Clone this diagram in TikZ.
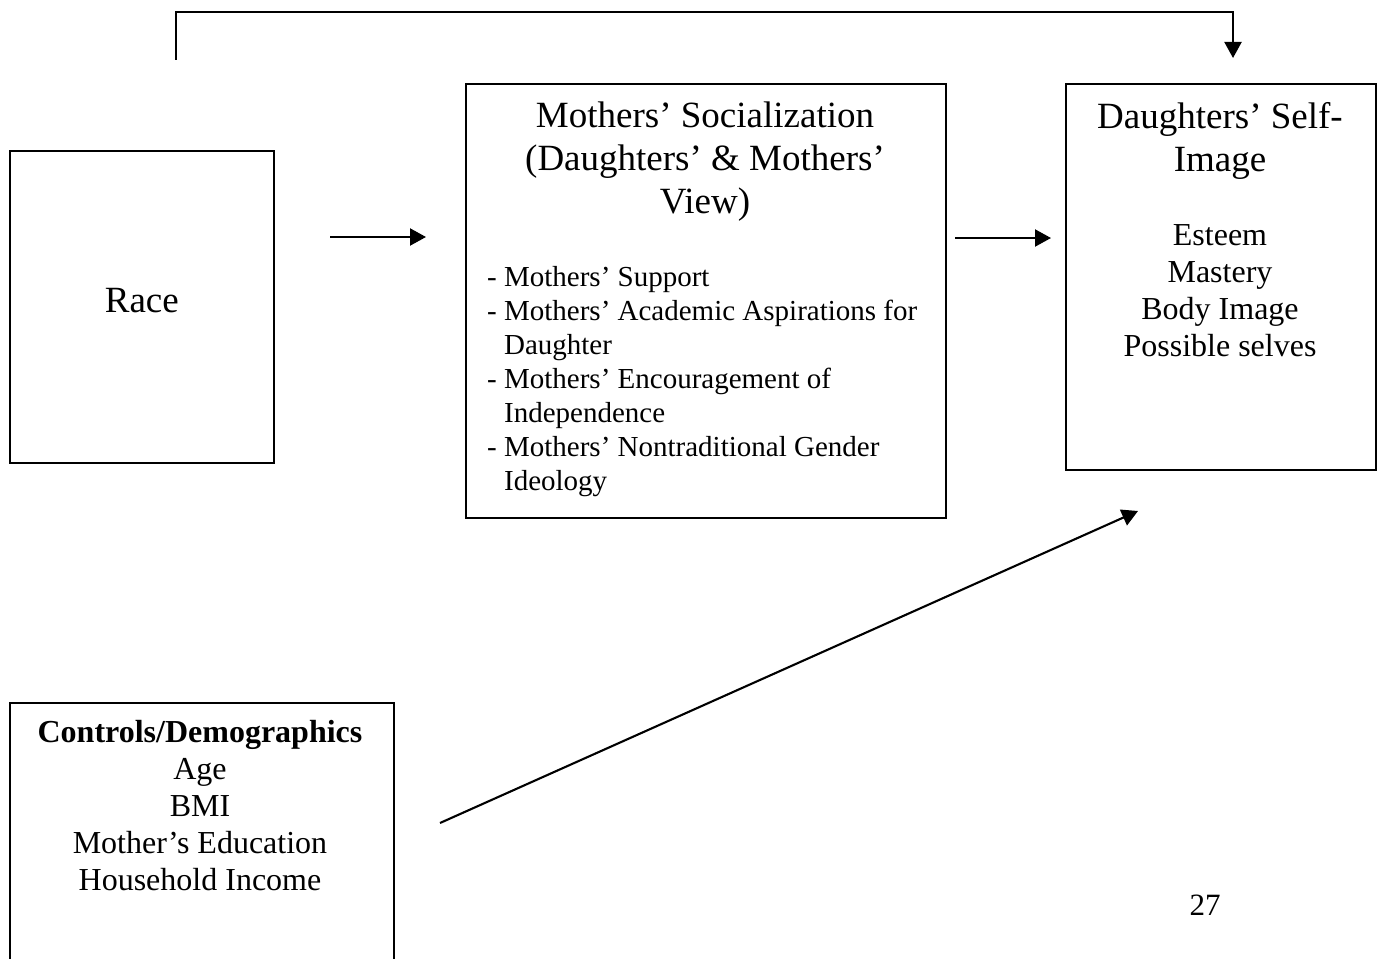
\documentclass[tikz,border=0pt]{standalone}
\usepackage{fontspec}
\setmainfont{Liberation Serif}
\usepackage{tikz}
\usetikzlibrary{positioning,arrows.meta}

\begin{document}
\begin{tikzpicture}[
    x=1pt, y=-1pt,
    box/.style={draw, line width=1.7pt, inner sep=0pt, anchor=north west},
    arr/.style={-{Triangle[length=16pt,width=17pt]}, line width=2.1pt},
    bigtext/.style={font=\fontsize{37}{43}\selectfont, inner sep=0pt, align=center},
    listtext/.style={font=\fontsize{29}{34}\selectfont, inner sep=0pt, align=left},
    itemtext/.style={font=\fontsize{32}{37}\selectfont, inner sep=0pt, align=center}
]
    \useasboundingbox (0,0) rectangle (1378,958);
    \clip (0,0) rectangle (1378,958);

    % boxes
    \node[box, minimum width=264pt, minimum height=312pt, text depth=12pt, font=\fontsize{37}{43}\selectfont] (race) at (9,150) {Race};
    \node[box, minimum width=480pt, minimum height=434pt] (social) at (465,83) {};
    \node[box, minimum width=310pt, minimum height=386pt] (self) at (1065,83) {};
    \node[box, minimum width=384pt, minimum height=300pt] (ctrl) at (9,702) {};

    % texts
    \node[bigtext, anchor=north] (socialtitle) at (705,102) {Mothers' Socialization\\(Daughters' \& Mothers'\\View)};
    \node[listtext, anchor=north west] (sociallist) at (487,266) {- Mothers' Support\\
        - Mothers' Academic Aspirations for\\
        \phantom{-\ }Daughter\\
        - Mothers' Encouragement of\\
        \phantom{-\ }Independence\\
        - Mothers' Nontraditional Gender\\
        \phantom{-\ }Ideology};
    \node[bigtext, anchor=north] (selftitle) at (1220,102) {Daughters' Self-\\Image};
    \node[itemtext, anchor=north] (selfitems) at (1220,224) {Esteem\\Mastery\\Body Image\\Possible selves};
    \node[itemtext, anchor=north] (ctrltext) at (200,720) {\textbf{Controls/Demographics}\\Age\\BMI\\Mother's Education\\Household Income};
    \node[font=\fontsize{31}{36}\selectfont, inner sep=0pt] (page) at (1205,905) {27};

    % arrow ends
    \coordinate (topstart) at (176,60);
    \coordinate (topend) at (1233,58);
    \coordinate (a1) at (330,237);
    \coordinate (b1) at (426,237);
    \coordinate (a2) at (955,238);
    \coordinate (b2) at (1051,238);
    \coordinate (a3) at (440,823);
    \coordinate (b3) at (1138,511);

    \draw[arr] (topstart) -- ++(0,-48) -| (topend);
    \draw[arr] (a1) -- (b1);
    \draw[arr] (a2) -- (b2);
    \draw[arr] (a3) -- (b3);
\end{tikzpicture}
\end{document}
